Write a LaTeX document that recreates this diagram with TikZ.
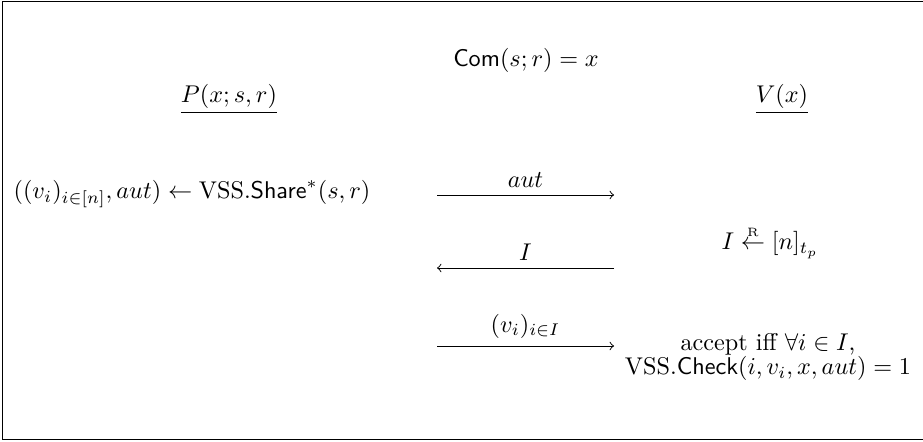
\documentclass[tikz,border=0pt]{standalone}
\usepackage{amsmath}
\begin{document}
\begin{tikzpicture}[x=0.413pt,y=-0.413pt,
  lbl/.style={inner sep=0pt,anchor=base},
  msglbl/.style={inner sep=0pt,anchor=south,yshift=3pt},
  msg/.style={->,line width=0.4pt}]
\useasboundingbox (0,0) rectangle (923,442);
\draw[line width=0.45pt] (960,1.5) -- (2.5,1.5) -- (2.5,439.5) -- (960,439.5);
\node[lbl] (com) at (526,67) {$\mathsf{Com}(s;r)=x$};
\node[lbl] (P) at (229,103) {$\underline{P(x;s,r)}$};
\node[lbl] (V) at (782,103) {$\underline{V(x)}$};
\node[lbl] (share) at (192,199) {$((v_i)_{i\in[n]},aut)\leftarrow \mathrm{VSS}.\mathsf{Share}^{*}(s,r)$};
\coordinate (a1s) at (437,195);
\coordinate (a1e) at (614,195);
\draw[msg] (a1s) -- node[msglbl,pos=0.5] (l1) {$aut$} (a1e);
\node[lbl] (samp) at (770,250) {$I \overset{\scriptscriptstyle\mathrm{R}}{\leftarrow} [n]_{t_p}$};
\coordinate (a2s) at (614,268);
\coordinate (a2e) at (437,268);
\draw[msg] (a2s) -- node[msglbl,pos=0.5] (l2) {$I$} (a2e);
\coordinate (a3s) at (437,346);
\coordinate (a3e) at (614,346);
\draw[msg] (a3s) -- node[msglbl,pos=0.5] (l3) {$(v_i)_{i\in I}$} (a3e);
\node[lbl] (acc) at (768,351) {accept iff $\forall i\in I$,};
\node[lbl] (chk) at (768,375) {$\mathrm{VSS}.\mathsf{Check}(i,v_i,x,aut)=1$};
\end{tikzpicture}
\end{document}
